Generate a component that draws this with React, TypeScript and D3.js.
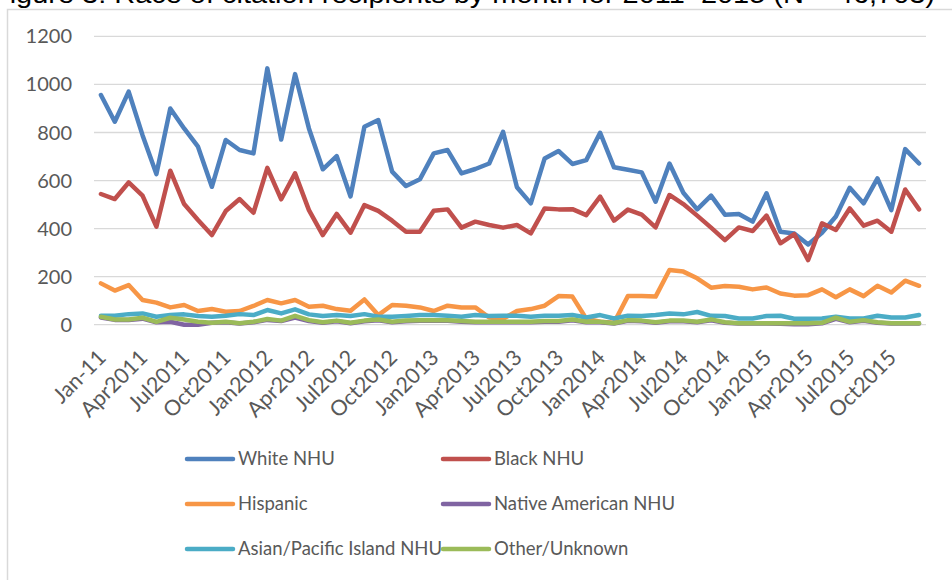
import React from "react";
import * as d3 from "d3";

// Monthly counts, Jan 2011 – Dec 2015
const months: Date[] = d3.timeMonths(new Date(2011, 0, 1), new Date(2016, 0, 1));

const tickLabels = [
  "Jan-11", "Apr2011", "Jul2011", "Oct2011",
  "Jan2012", "Apr2012", "Jul2012", "Oct2012",
  "Jan2013", "Apr2013", "Jul2013", "Oct2013",
  "Jan2014", "Apr2014", "Jul2014", "Oct2014",
  "Jan2015", "Apr2015", "Jul2015", "Oct2015",
];

const whiteNHU = [
  956, 845, 970, 789, 627, 900, 817, 741, 574, 769, 727, 713,
  1067, 771, 1043, 817, 647, 702, 534, 824, 852, 637, 577, 605,
  713, 727, 630, 648, 671, 803, 572, 505, 692, 723, 669, 685,
  799, 655, 645, 634, 512, 671, 549, 480, 537, 458, 461, 429,
  547, 387, 380, 334, 383, 450, 570, 505, 609, 477, 731, 671,
];

const blackNHU = [
  544, 523, 592, 537, 408, 641, 502, 436, 373, 473, 523, 466,
  653, 522, 630, 477, 373, 461, 383, 498, 474, 433, 387, 387,
  474, 480, 404, 429, 415, 404, 415, 380, 484, 480, 481, 456,
  533, 433, 479, 458, 405, 540, 502, 454, 404, 352, 405, 390,
  454, 339, 377, 269, 422, 394, 484, 412, 433, 387, 563, 480,
];

const hispanic = [
  172, 142, 165, 103, 92, 72, 82, 57, 65, 54, 57, 78,
  103, 89, 103, 75, 79, 65, 58, 105, 40, 82, 79, 72,
  57, 79, 72, 72, 30, 25, 57, 65, 79, 119, 117, 25,
  12, 8, 119, 119, 117, 228, 221, 193, 154, 161, 158, 147,
  155, 130, 121, 123, 147, 114, 147, 119, 162, 134, 183, 162,
];

const nativeAmericanNHU = [
  30, 20, 20, 25, 10, 12, 0, 0, 8, 10, 5, 10,
  20, 15, 30, 15, 8, 14, 6, 14, 18, 10, 14, 16,
  16, 16, 12, 10, 10, 10, 10, 10, 12, 12, 18, 10,
  10, 5, 16, 14, 8, 14, 14, 10, 18, 8, 5, 5,
  5, 4, 2, 2, 6, 24, 10, 16, 8, 5, 5, 5,
];

const asianPacificNHU = [
  37, 37, 44, 47, 33, 40, 43, 36, 33, 37, 44, 40,
  61, 47, 64, 43, 36, 40, 36, 44, 33, 33, 36, 40,
  40, 37, 33, 40, 36, 37, 37, 33, 37, 37, 40, 30,
  40, 26, 37, 36, 40, 47, 43, 53, 37, 36, 26, 26,
  36, 37, 25, 25, 26, 33, 26, 26, 37, 30, 30, 40,
];

const otherUnknown = [
  33, 22, 22, 29, 12, 29, 22, 12, 8, 12, 6, 12,
  24, 17, 37, 19, 10, 17, 8, 17, 22, 12, 17, 19,
  19, 19, 15, 12, 12, 12, 12, 12, 15, 15, 22, 12,
  12, 6, 19, 17, 10, 17, 17, 12, 22, 10, 6, 6,
  6, 6, 6, 6, 8, 29, 12, 19, 10, 6, 6, 6,
];

const seriesNames = [
  "White NHU", "Black NHU", "Hispanic",
  "Native American NHU", "Asian/Pacific Island NHU", "Other/Unknown",
];
const seriesColors = ["#4F81BD", "#C0504D", "#F79646", "#8064A2", "#4BACC6", "#9BBB59"];
const seriesValues = [whiteNHU, blackNHU, hispanic, nativeAmericanNHU, asianPacificNHU, otherUnknown];

const yTicks = [0, 200, 400, 600, 800, 1000, 1200];

const W = 952;
const H = 580;
const plot = { left: 94, right: 926, top: 36.4, bottom: 324.7 };
const textColor = "#595959";
const gridColor = "#D9D9D9";
const font = "Lato, 'Open Sans', sans-serif";

export default function App() {
  const x = d3
    .scaleBand<number>()
    .domain(months.map((_, i) => i))
    .range([plot.left, plot.right]);
  const cx = (i: number) => (x(i) as number) + x.bandwidth() / 2;
  const y = d3.scaleLinear().domain([0, 1200]).range([plot.bottom, plot.top]);

  const line = d3
    .line<number>()
    .x((_, i) => cx(i))
    .y((v) => y(v));

  const legendCols = [187, 443];
  const legendRows = [459, 504, 549];

  return (
    <svg
      width={W}
      height={H}
      style={{ position: "absolute", left: 0, top: 0, background: "#fff" }}
      fontFamily={font}
    >
      <rect x={0} y={0} width={W} height={H} fill="#fff" />
      <text x={-8} y={3} fontSize={26} fill="#000" fontFamily="'Liberation Sans', Arial, sans-serif" textLength={943} lengthAdjust="spacingAndGlyphs">
        Figure 3: Race of citation recipients by month for 2011–2015 (N = 46,703)
      </text>
      <rect x={7.5} y={9.5} width={960} height={600} fill="#fff" stroke={gridColor} strokeWidth={1.5} />

      {yTicks.map((t) => (
        <g key={t}>
          <line x1={plot.left} x2={plot.right} y1={y(t)} y2={y(t)} stroke={gridColor} strokeWidth={1.3} />
          <text x={72} y={y(t)} dy="0.35em" textAnchor="end" fontSize={20} fill={textColor}>
            {t}
          </text>
        </g>
      ))}

      {tickLabels.map((lab, k) => {
        const i = k * 3;
        const px = cx(i) + 1;
        const py = plot.bottom + 29;
        return (
          <text
            key={lab}
            transform={`translate(${px},${py}) rotate(-45)`}
            textAnchor="end"
            dy="0.35em"
            fontSize={21.5}
            fill={textColor}
          >
            {lab}
          </text>
        );
      })}

      {seriesValues.map((vals, s) => (
        <path
          key={seriesNames[s]}
          d={line(vals) ?? ""}
          fill="none"
          stroke={seriesColors[s]}
          strokeWidth={4.5}
          strokeLinejoin="round"
          strokeLinecap="round"
        />
      ))}

      {seriesNames.map((name, s) => {
        const lx = legendCols[s % 2];
        const ly = legendRows[Math.floor(s / 2)];
        return (
          <g key={name}>
            <line x1={lx} x2={lx + 46} y1={ly} y2={ly} stroke={seriesColors[s]} strokeWidth={4.5} strokeLinecap="round" />
            <text x={lx + 51} y={ly} dy="0.35em" fontSize={18.5} fill={textColor}>
              {name}
            </text>
          </g>
        );
      })}
    </svg>
  );
}
